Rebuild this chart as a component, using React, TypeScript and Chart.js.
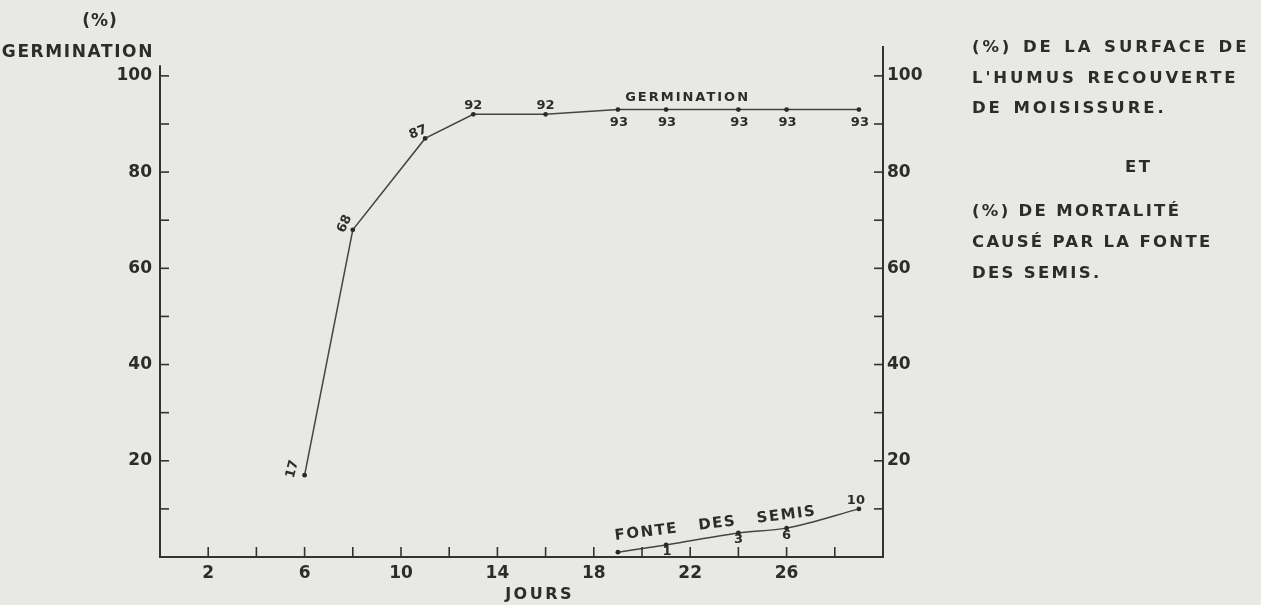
import React, { useEffect, useRef } from 'react';
import { Chart, registerables } from 'chart.js';

Chart.register(...registerables);

// ---- data ----
const germDays = [6, 8, 11, 13, 16, 19, 21, 24, 26, 29];
const germValues = [17, 68, 87, 92, 92, 93, 93, 93, 93, 93];
const germLabels = ['17', '68', '87', '92', '92', '93', '93', '93', '93', '93'];

const fonteDays = [19, 21, 24, 26, 29];
const fonteValues = [1, 2.5, 5, 6, 10];
const fonteLabels = ['', '1', '3', '6', '10'];

const xTicks = [2, 4, 6, 8, 10, 12, 14, 16, 18, 20, 22, 24, 26, 28];
const xTickLabels = [2, 6, 10, 14, 18, 22, 26];
const yTicks = [10, 20, 30, 40, 50, 60, 70, 80, 90, 100];
const yTickLabels = [20, 40, 60, 80, 100];

const leftTitle = ['(%)', 'GERMINATION'];
const xTitle = 'JOURS';
const germSeriesName = 'GERMINATION';
const fonteSeriesName = 'FONTE DES SEMIS';
const rightNote1 = ['(%) DE LA SURFACE DE', "L'HUMUS RECOUVERTE", 'DE MOISISSURE.'];
const rightNoteJoin = 'ET';
const rightNote2 = ['(%) DE MORTALITÉ', 'CAUSÉ PAR LA FONTE', 'DES SEMIS.'];

// ---- styles (label offsets relative to the points) ----
const germLabelStyle = [
  { dx: -12, dy: -6, rot: -75 },
  { dx: -8, dy: -6, rot: -65 },
  { dx: -7, dy: -6, rot: -20 },
  { dx: 0, dy: -9, rot: 0 },
  { dx: 0, dy: -9, rot: 0 },
  { dx: 1, dy: 13, rot: 0 },
  { dx: 1, dy: 13, rot: 0 },
  { dx: 1, dy: 13, rot: 0 },
  { dx: 1, dy: 13, rot: 0 },
  { dx: 1, dy: 13, rot: 0 },
];
const fonteLabelStyle = [
  { dx: 0, dy: 0, rot: 0 },
  { dx: 1, dy: 7, rot: 0 },
  { dx: 0, dy: 7, rot: 0 },
  { dx: 0, dy: 7, rot: 0 },
  { dx: -3, dy: -8, rot: 0 },
];

const FONT = '"DejaVu Sans", "Liberation Sans", sans-serif';
const INK = '#2c2c2c';
const BG = '#e8e8e5';

function drawText(
  ctx: CanvasRenderingContext2D,
  s: string,
  x: number,
  y: number,
  o: { size: number; weight?: string; align?: CanvasTextAlign; spacing?: number; words?: number; rot?: number }
) {
  ctx.save();
  ctx.font = `${o.weight || 'bold'} ${o.size}px ${FONT}`;
  (ctx as any).letterSpacing = `${o.spacing || 0}px`;
  (ctx as any).wordSpacing = `${o.words || 0}px`;
  ctx.fillStyle = INK;
  ctx.textAlign = o.align || 'left';
  ctx.textBaseline = 'middle';
  ctx.translate(x, y);
  if (o.rot) ctx.rotate((o.rot * Math.PI) / 180);
  ctx.fillText(s, 0, 0);
  ctx.restore();
}

const bgPlugin = {
  id: 'bg',
  beforeDraw(chart: any) {
    const { ctx, width, height } = chart;
    ctx.save();
    ctx.fillStyle = BG;
    ctx.fillRect(0, 0, width, height);
    ctx.restore();
  },
};

const decorPlugin = {
  id: 'decor',
  afterDatasetsDraw(chart: any) {
    const ctx: CanvasRenderingContext2D = chart.ctx;
    const xs = chart.scales.x;
    const yl = chart.scales.y;
    const yr = chart.scales.y2;
    const x0 = xs.getPixelForValue(0);
    const x30 = xs.getPixelForValue(30);
    const yb = yl.getPixelForValue(0);

    ctx.save();
    ctx.strokeStyle = '#333';
    ctx.lineWidth = 2;
    ctx.lineCap = 'square';
    const line = (a: number, b: number, c: number, d: number) => {
      ctx.beginPath();
      ctx.moveTo(a, b);
      ctx.lineTo(c, d);
      ctx.stroke();
    };
    line(x0, yb, x0, yl.getPixelForValue(102));
    line(x0, yb, x30, yb);
    line(x30, yb, x30, yr.getPixelForValue(106));
    ctx.lineWidth = 1.6;
    ctx.lineCap = 'butt';
    yTicks.forEach((v) => {
      const y = yl.getPixelForValue(v);
      line(x0, y, x0 + 9, y);
      const y2 = yr.getPixelForValue(v);
      line(x30 - 9, y2, x30, y2);
    });
    xTicks.forEach((d) => {
      const x = xs.getPixelForValue(d);
      line(x, yb, x, yb - 10);
    });
    ctx.restore();

    // point labels
    const gMeta = chart.getDatasetMeta(0);
    gMeta.data.forEach((pt: any, i: number) => {
      const st = germLabelStyle[i];
      drawText(ctx, germLabels[i], pt.x + st.dx, pt.y + st.dy, { size: 13, align: 'center', rot: st.rot });
    });
    const fMeta = chart.getDatasetMeta(1);
    fMeta.data.forEach((pt: any, i: number) => {
      const st = fonteLabelStyle[i];
      if (fonteLabels[i]) drawText(ctx, fonteLabels[i], pt.x + st.dx, pt.y + st.dy, { size: 13, align: 'center', rot: st.rot });
    });

    // series names
    drawText(ctx, germSeriesName, xs.getPixelForValue(19.3), yl.getPixelForValue(95.5), { size: 13, spacing: 2 });
    const fStart = fMeta.data[0];
    drawText(ctx, fonteSeriesName, fStart.x - 3, fStart.y - 16, { size: 15, spacing: 1.5, words: 14, rot: -7 });

    // axis titles
    drawText(ctx, leftTitle[0], 100, 22, { size: 17, align: 'center', spacing: 1 });
    drawText(ctx, leftTitle[1], 154, 53, { size: 17, align: 'right', spacing: 1.6 });
    drawText(ctx, xTitle, (xs.getPixelForValue(14) + xs.getPixelForValue(18)) / 2 - 6, 595, { size: 16, align: 'center', spacing: 2.5 });

    // right-hand notes
    const rx = x30 + 89;
    rightNote1.forEach((s, i) => drawText(ctx, s, rx, 48 + i * 30.5, { size: 16.5, spacing: 2.9, words: 2 }));
    drawText(ctx, rightNoteJoin, rx + 153, 168, { size: 16.5, spacing: 2.6 });
    rightNote2.forEach((s, i) => drawText(ctx, s, rx, 212 + i * 31, { size: 16.5, spacing: 2.3 }));
  },
};

export default function App() {
  const ref = useRef<HTMLCanvasElement | null>(null);

  useEffect(() => {
    document.body.style.margin = '0';
    document.body.style.background = BG;
    const canvas = ref.current;
    if (!canvas) return;

    const tickFont = { family: FONT, size: 17, weight: 'bold' as const };
    const yScale = (pos: 'left' | 'right', width: number, pad: number) => ({
      type: 'linear' as const,
      position: pos,
      min: 0,
      max: 106,
      afterBuildTicks: (axis: any) => {
        axis.ticks = yTicks.map((v) => ({ value: v }));
      },
      afterFit: (s: any) => {
        s.width = width;
      },
      grid: { display: false, drawTicks: false },
      border: { display: false },
      ticks: {
        padding: pad,
        color: INK,
        font: tickFont,
        callback: (v: any) => (yTickLabels.includes(Number(v)) ? String(v) : ''),
      },
    });

    const chart = new Chart(canvas, {
      type: 'line',
      data: {
        datasets: [
          {
            label: germSeriesName,
            data: germDays.map((d, i) => ({ x: d, y: germValues[i] })),
            borderColor: '#444',
            borderWidth: 1.5,
            pointRadius: 2.4,
            pointBackgroundColor: '#2a2a2a',
            pointBorderWidth: 0,
            tension: 0,
            yAxisID: 'y',
          },
          {
            label: fonteSeriesName,
            data: fonteDays.map((d, i) => ({ x: d, y: fonteValues[i] })),
            borderColor: '#444',
            borderWidth: 1.5,
            pointRadius: 2.4,
            pointBackgroundColor: '#2a2a2a',
            pointBorderWidth: 0,
            cubicInterpolationMode: 'monotone',
            yAxisID: 'y',
          },
        ],
      },
      options: {
        animation: false,
        responsive: false,
        devicePixelRatio: 1,
        layout: { padding: { top: 47, left: 0, right: 0, bottom: 0 } },
        plugins: { legend: { display: false }, tooltip: { enabled: false }, title: { display: false } },
        scales: {
          x: {
            type: 'linear',
            position: 'bottom',
            min: 0,
            max: 30,
            afterBuildTicks: (axis: any) => {
              axis.ticks = xTicks.map((v) => ({ value: v }));
            },
            afterFit: (s: any) => {
              s.height = 48;
            },
            grid: { display: false, drawTicks: false },
            border: { display: false },
            ticks: {
              padding: 6,
              color: INK,
              font: tickFont,
              maxRotation: 0,
              autoSkip: false,
              callback: (v: any) => (xTickLabels.includes(Number(v)) ? String(v) : ''),
            },
          },
          y: yScale('left', 160, 8),
          y2: yScale('right', 378, 4),
        },
      },
      plugins: [bgPlugin, decorPlugin],
    });

    return () => chart.destroy();
  }, []);

  return (
    <div style={{ width: 1261, height: 605, background: BG }}>
      <canvas ref={ref} width={1261} height={605} style={{ display: 'block' }} />
    </div>
  );
}
